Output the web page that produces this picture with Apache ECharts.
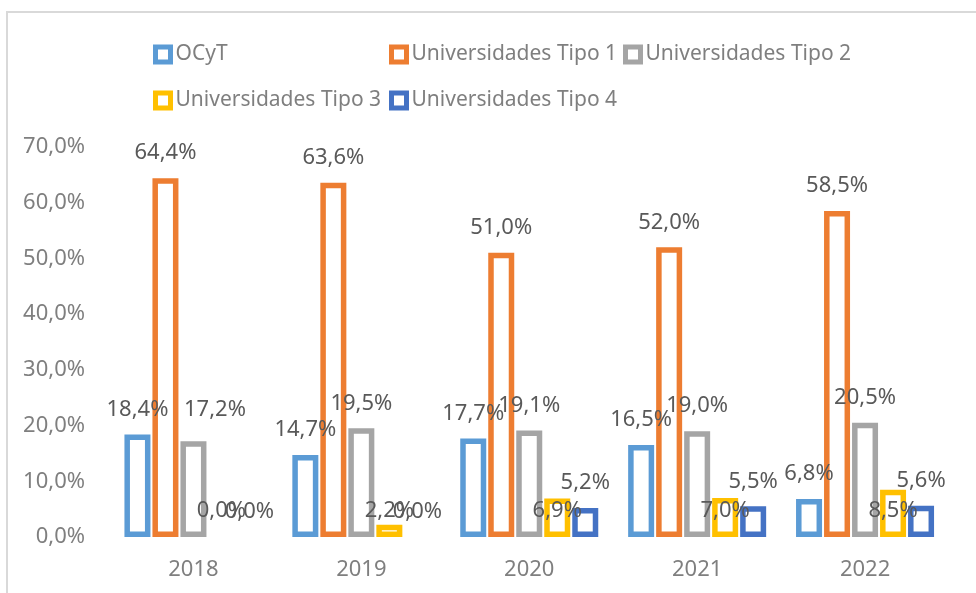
<!DOCTYPE html>
<html>
<head>
<meta charset="utf-8">
<script src="https://cdn.jsdelivr.net/npm/echarts@6/dist/echarts.min.js"></script>
<style>
  html, body { margin: 0; padding: 0; background: #fff; }
  #chart { width: 976px; height: 593px; }
</style>
</head>
<body>
<div id="chart"></div>
<script>
var years = ['2018', '2019', '2020', '2021', '2022'];
var seriesNames = ['OCyT', 'Universidades Tipo 1', 'Universidades Tipo 2', 'Universidades Tipo 3', 'Universidades Tipo 4'];
var ocyt = [18.4, 14.7, 17.7, 16.5, 6.8];
var tipo1 = [64.4, 63.6, 51.0, 52.0, 58.5];
var tipo2 = [17.2, 19.5, 19.1, 19.0, 20.5];
var tipo3 = [0.0, 2.2, 6.9, 7.0, 8.5];
var tipo4 = [0.0, 0.0, 5.2, 5.5, 5.6];
var yTicks = [0, 10, 20, 30, 40, 50, 60, 70];

var colors = ['#5B9BD5', '#ED7D31', '#A5A5A5', '#FFC000', '#4472C4'];
var values = [ocyt, tipo1, tipo2, tipo3, tipo4];
var fontFamily = '"Noto Sans", sans-serif';

function pct(v) {
  return v.toFixed(1).replace('.', ',') + '%';
}

var myChart = echarts.init(document.getElementById('chart'));

// legend: excel puts the items in fixed columns, one legend per item
var legendPos = [
  { left: 153, top: 44 },
  { left: 389, top: 44 },
  { left: 623, top: 44 },
  { left: 153, top: 90 },
  { left: 389, top: 90 }
];
var legends = seriesNames.map(function (name, i) {
  return {
    data: [name],
    left: legendPos[i].left,
    top: legendPos[i].top,
    padding: 0,
    icon: 'rect',
    itemWidth: 15,
    itemHeight: 15,
    itemStyle: { color: '#fff', borderColor: colors[i], borderWidth: 5 },
    textStyle: { color: '#7f7f7f', fontSize: 21, fontFamily: fontFamily },
    selectedMode: false
  };
});

var series = values.map(function (arr, i) {
  var data = arr.map(function (v, j) {
    var item = { value: v };
    // a zero bar has no outline in the original
    if (v === 0) {
      item.itemStyle = { borderWidth: 0 };
    }
    // label moved by hand in the original (Tipo 2, 2018)
    if (i == 2 && j == 0) {
      item.label = { offset: [21.5, -6] };
    }
    return item;
  });
  return {
    name: seriesNames[i],
    type: 'bar',
    data: data,
    barWidth: 26,
    barGap: '7.7%',
    itemStyle: { color: '#fff', borderColor: colors[i], borderWidth: 5.5 },
    label: {
      show: true,
      position: i == 3 ? 'insideBottom' : 'top',
      distance: i == 3 ? 15 : 14,
      color: '#595959',
      fontSize: 22,
      fontFamily: fontFamily,
      formatter: function (p) { return pct(p.value); }
    }
  };
});

var option = {
  animation: false,
  backgroundColor: '#fff',
  graphic: [{
    type: 'rect',
    silent: true,
    shape: { x: 7, y: 12, width: 1200, height: 900 },
    style: { fill: 'none', stroke: '#d9d9d9', lineWidth: 2 }
  }],
  legend: legends,
  grid: { left: 109.5, right: 27, top: 147, bottom: 56 },
  xAxis: {
    type: 'category',
    data: years,
    axisLine: { show: false },
    axisTick: { show: false },
    axisLabel: { color: '#7f7f7f', fontSize: 22, fontFamily: fontFamily, margin: 22 }
  },
  yAxis: {
    type: 'value',
    min: yTicks[0],
    max: yTicks[yTicks.length - 1],
    interval: 10,
    splitLine: { show: false },
    axisLine: { show: false },
    axisTick: { show: false },
    axisLabel: {
      color: '#7f7f7f', fontSize: 22, fontFamily: fontFamily, margin: 24.5,
      formatter: function (v) { return pct(v); }
    }
  },
  series: series
};

myChart.setOption(option);
</script>
</body>
</html>
